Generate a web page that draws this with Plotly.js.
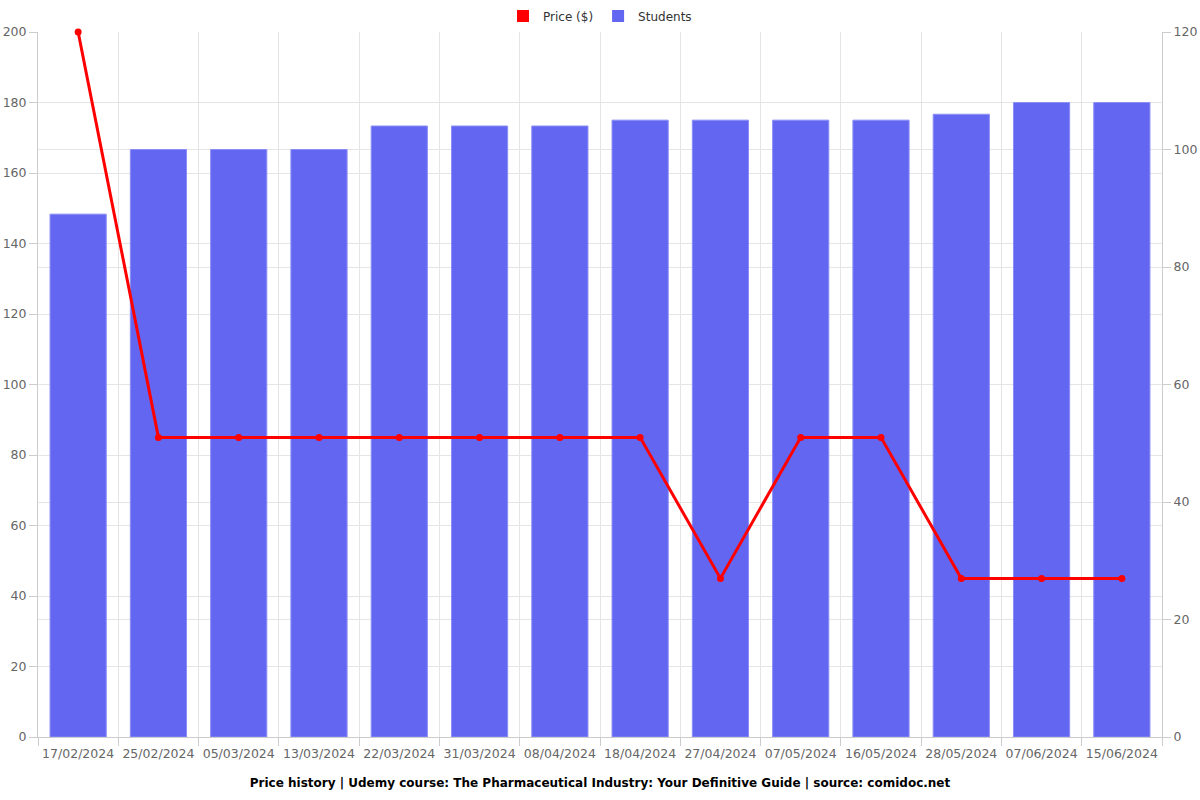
<!DOCTYPE html>
<html>
<head>
<meta charset="utf-8">
<script src="https://cdn.plot.ly/plotly-3.0.1.min.js"></script>
<style>html,body{margin:0;padding:0;background:#fff}#chart{width:1200px;height:800px}</style>
</head>
<body>
<div id="chart"></div>
<script>
const dates = ["17/02/2024","25/02/2024","05/03/2024","13/03/2024","22/03/2024","31/03/2024","08/04/2024","18/04/2024","27/04/2024","07/05/2024","16/05/2024","28/05/2024","07/06/2024","15/06/2024"];
const price = [200,85,85,85,85,85,85,85,45,85,85,45,45,45];
const students = [89,100,100,100,104,104,104,105,105,105,105,106,108,108];
const priceLabel = 'Price ($)';
const studentsLabel = 'Students';

const traces = [
  // legend entries (rectangular swatches, as in the reference)
  {type: 'bar', name: priceLabel, x: [dates[0]], y: [null], yaxis: 'y', marker: {color: '#ff0000'}, showlegend: true, hoverinfo: 'skip'},
  {type: 'bar', name: studentsLabel, x: [dates[0]], y: [null], yaxis: 'y', marker: {color: '#6366f1'}, showlegend: true, hoverinfo: 'skip'},
  {
    type: 'bar', name: studentsLabel, showlegend: false,
    x: dates, y: students, yaxis: 'y',
    marker: {color: '#6366f1', line: {color: '#8b8ef5', width: 1}},
    width: 0.7
  },
  {
    type: 'scatter', mode: 'lines+markers', name: priceLabel, showlegend: false,
    x: dates, y: price, yaxis: 'y2',
    line: {color: '#ff0000', width: 3},
    marker: {color: '#ff0000', size: 7},
    cliponaxis: false
  }
];

const layout = {
  width: 1200, height: 800,
  margin: {l: 38, r: 38, t: 32, b: 63, autoexpand: false},
  paper_bgcolor: '#fff', plot_bgcolor: '#fff',
  font: {family: 'DejaVu Sans, sans-serif', size: 12, color: '#666'},
  showlegend: true,
  barmode: 'overlay',
  legend: {orientation: 'h', x: 0.5, xanchor: 'center', yref: 'container', y: 0.98, yanchor: 'middle', font: {size: 12, color: '#333'}, traceorder: 'normal'},
  title: {text: '<b>Price history | Udemy course: The Pharmaceutical Industry: Your Definitive Guide | source: comidoc.net</b>', font: {size: 12, color: '#000'}, x: 0.5, xanchor: 'center', y: 0.021, yanchor: 'middle'},
  xaxis: {
    type: 'category', range: [-0.5, 13.5], tickson: 'boundaries', ticks: 'outside', ticklen: 8, tickcolor: '#ccc',
    tickangle: 0, automargin: false, ticklabelstandoff: 5,
    showgrid: true, gridcolor: '#e5e5e5', showline: true, linecolor: '#ccc',
    tickfont: {size: 12.5, color: '#666'}, zeroline: false
  },
  yaxis: {
    side: 'right', range: [0, 120], dtick: 20, ticks: 'outside', ticklen: 8, tickcolor: '#ccc',
    showgrid: true, gridcolor: '#e5e5e5', showline: true, linecolor: '#ccc', zeroline: false,
    tickfont: {size: 12.5, color: '#666'}, automargin: false
  },
  yaxis2: {
    overlaying: 'y', side: 'left', range: [0, 200], dtick: 20, ticks: 'outside', ticklen: 8, tickcolor: '#ccc',
    showgrid: true, gridcolor: '#e5e5e5', showline: true, linecolor: '#ccc', zeroline: false,
    tickfont: {size: 12.5, color: '#666'}, automargin: false
  }
};

Plotly.newPlot('chart', traces, layout, {displayModeBar: false});
</script>
</body>
</html>
